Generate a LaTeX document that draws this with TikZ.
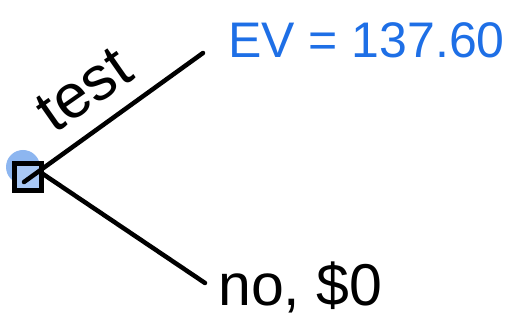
\documentclass[tikz,border=0pt]{standalone}
\usepackage{fontspec}
\setmainfont{Liberation Sans}
\definecolor{evblue}{HTML}{1E6FE6}
\definecolor{sqblue}{HTML}{A9C8F5}
\definecolor{glow}{HTML}{8DB6F0}
\begin{document}
\begin{tikzpicture}[x=1pt,y=-1pt,
  branch/.style={line width=4.5pt,line cap=round,black},
  lbl/.style={inner sep=0pt,font=\fontsize{50}{52}\selectfont}]
\useasboundingbox (0,0) rectangle (525,328);
\fill[glow] (23,167) circle (17);
\node[draw=black,line width=4.5pt,fill=sqblue,minimum size=27pt,inner sep=0pt] (dec) at (28,177) {};
\coordinate (s1) at (24,182);
\coordinate (s2) at (40,172);
\coordinate (t1) at (203,53);
\coordinate (t2) at (205,283);
\draw[branch] (s1) -- (t1);
\draw[branch] (s2) -- (t2);
\node[lbl,rotate=35,font=\fontsize{62}{64}\selectfont] (test) at (84,90) {test};
\node[lbl,text=evblue,anchor=west] (ev) at (228,40) {EV = 137.60};
\node[lbl,anchor=west,font=\fontsize{59}{61}\selectfont] (no) at (218,287) {no, \$0};
\end{tikzpicture}
\end{document}
